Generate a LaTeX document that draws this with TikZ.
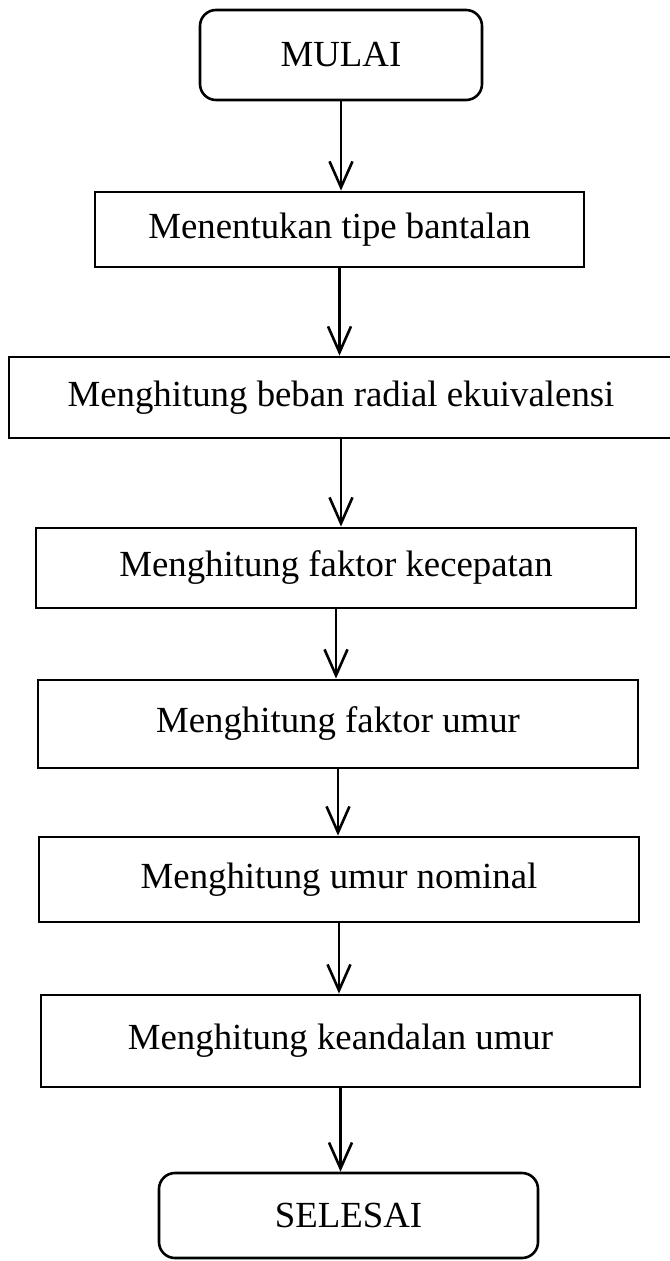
\documentclass[tikz,border=0pt]{standalone}
\usepackage{fontspec}
\setmainfont{Liberation Serif}
\usetikzlibrary{arrows.meta}
\begin{document}
\begin{tikzpicture}[x=0.5pt,y=-0.5pt,
  every node/.style={font=\fontsize{18.4}{22}\selectfont, inner sep=0pt},
  procbox/.style={draw, line width=1.4pt, rectangle},
  termbox/.style={draw, line width=1.3pt, rectangle, rounded corners=8pt},
  flow/.style={line width=1.3pt, -{Straight Barb[length=13pt,width=11.5pt,line width=1.3pt]}}]
\useasboundingbox (0,0) rectangle (669,1261);

% terminals and process steps
\node[termbox, minimum width=141pt, minimum height=45pt] (start) at (341,55) {MULAI};
\node[procbox, minimum width=244.5pt, minimum height=37.5pt] (s1) at (339.5,229.5) {Menentukan tipe bantalan};
\node[procbox, minimum width=332pt, minimum height=40.5pt] (s2) at (341,397.5) {Menghitung beban radial ekuivalensi};
\node[procbox, minimum width=300pt, minimum height=40pt] (s3) at (336,568) {Menghitung faktor kecepatan};
\node[procbox, minimum width=300pt, minimum height=44pt] (s4) at (338,724) {Menghitung faktor umur};
\node[procbox, minimum width=300pt, minimum height=42.5pt] (s5) at (339,879.5) {Menghitung umur nominal};
\node[procbox, minimum width=299.5pt, minimum height=46pt] (s6) at (340.5,1041) {Menghitung keandalan umur};
\node[termbox, minimum width=189.5pt, minimum height=42.5pt] (stop) at (348.5,1215.5) {SELESAI};

% connectors
\draw[flow] (start.south) -- (start.south |- s1.north);
\draw[flow] (s1.south) -- (s1.south |- s2.north);
\draw[flow] (s2.south) -- (s2.south |- s3.north);
\draw[flow] (s3.south) -- (s3.south |- s4.north);
\draw[flow] (s4.south) -- (s4.south |- s5.north);
\draw[flow] (s5.south) -- (s5.south |- s6.north);
\draw[flow] (s6.south) -- (s6.south |- stop.north);
\end{tikzpicture}
\end{document}
